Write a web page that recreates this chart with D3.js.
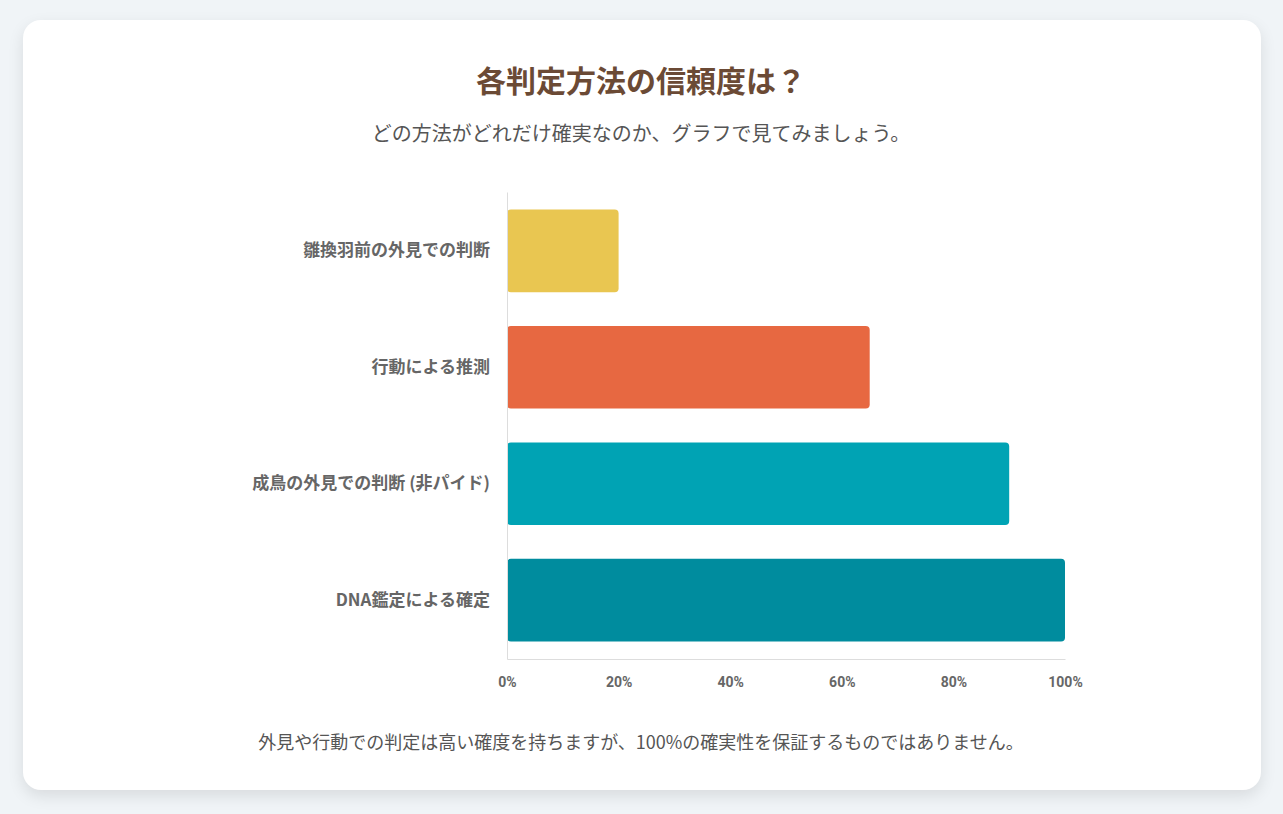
<!DOCTYPE html>
<html><head><meta charset="utf-8">
<script src="https://cdn.jsdelivr.net/npm/d3@7"></script>
<style>
html,body{margin:0;padding:0;background:#f0f4f7;}
body{width:1283px;height:814px;position:relative;font-family:"Noto Sans CJK JP","Noto Sans",sans-serif;}
.card{position:absolute;left:23px;top:20px;width:1238px;height:770px;background:#fff;border-radius:18px;box-shadow:0 6px 16px rgba(0,0,0,0.10);}
svg{position:absolute;left:0;top:0;}
</style></head><body>
<div class="card"></div>
<svg id="c" width="1283" height="814"></svg>
<script>
const categories=["雛換羽前の外見での判断","行動による推測","成鳥の外見での判断 (非パイド)","DNA鑑定による確定"];
const values=[20,65,90,100];
const colors=["#E9C651","#E76841","#00A3B4","#008C9E"];
const tickValues=[0,20,40,60,80,100];
const title="各判定方法の信頼度は？";
const subtitle="どの方法がどれだけ確実なのか、グラフで見てみましょう。";
const footer="外見や行動での判定は高い確度を持ちますが、100%の確実性を保証するものではありません。";

const svg=d3.select("#c");
const x=d3.scaleLinear().domain([0,100]).range([507,1065]);
const y=d3.scaleBand().domain(categories).range([192,659]).paddingInner(0.29).paddingOuter(0.15);

svg.append("text").attr("x",641).attr("y",92).attr("text-anchor","middle")
 .attr("font-size",30).attr("font-weight",700).attr("fill","#6B4A35").text(title);
svg.append("text").attr("x",641).attr("y",141).attr("text-anchor","middle")
 .attr("font-size",20).attr("fill","#555").text(subtitle);

svg.append("g").selectAll("rect").data(values).join("rect")
 .attr("x",x(0)).attr("y",(d,i)=>y(categories[i])).attr("width",d=>x(d)-x(0))
 .attr("height",y.bandwidth()).attr("rx",4).attr("fill",(d,i)=>colors[i]);

const xa=svg.append("g").attr("transform","translate(0,659)")
 .call(d3.axisBottom(x).tickValues(tickValues).tickFormat(d=>d+"%").tickSize(0).tickPadding(18));
xa.select(".domain").attr("stroke","#ddd");
xa.selectAll("text").attr("font-size",14).attr("font-weight",700).attr("fill","#666").attr("font-family","Roboto,'Noto Sans',sans-serif");

const ya=svg.append("g").attr("transform","translate(507,0)")
 .call(d3.axisLeft(y).tickSize(0).tickPadding(17));
ya.select(".domain").attr("stroke","#ddd");
ya.selectAll("text").attr("font-size",17).attr("font-weight",700).attr("fill","#666").attr("font-family","'Noto Sans CJK JP',sans-serif");

svg.append("text").attr("x",641).attr("y",749).attr("text-anchor","middle")
 .attr("font-size",18).attr("fill","#555").text(footer);
</script></body></html>
